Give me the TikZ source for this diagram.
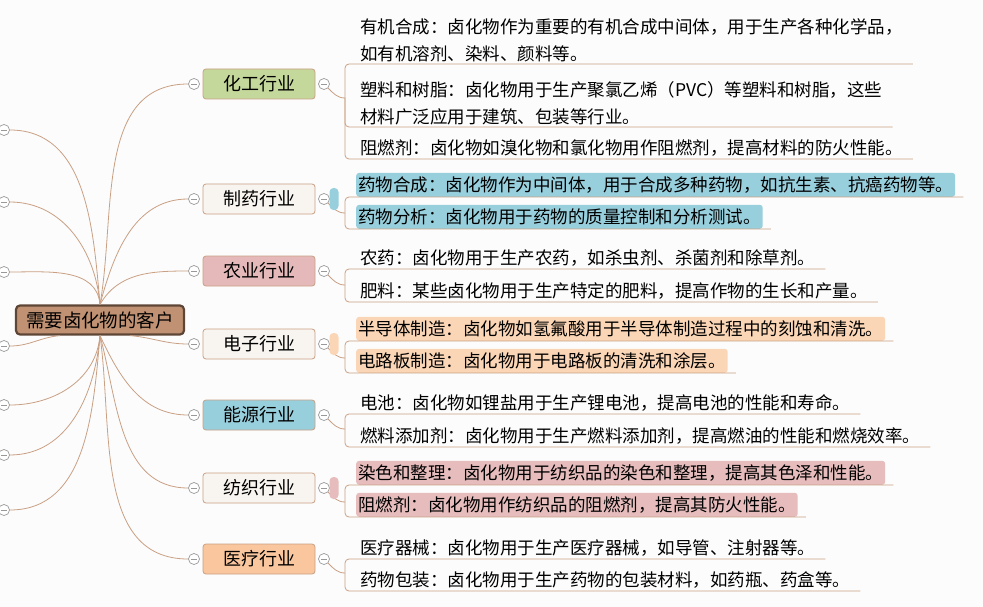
\documentclass[tikz,border=0pt]{standalone}
\usepackage{fontspec}
\setmainfont{Noto Sans CJK SC}
\definecolor{conn}{HTML}{C9A084}
\definecolor{bg}{HTML}{FCFCFC}
\definecolor{rootf}{HTML}{C09273}
\definecolor{rootd}{HTML}{5E4636}
\definecolor{cgreen}{HTML}{C5D89B}
\definecolor{cwhite}{HTML}{F8F4EF}
\definecolor{cpink}{HTML}{E5B9B9}
\definecolor{cblue}{HTML}{98CFDD}
\definecolor{corange}{HTML}{FAC69D}
\definecolor{hblue}{HTML}{98CFDD}
\definecolor{horange}{HTML}{FBD6B6}
\definecolor{hpink}{HTML}{E6BCBC}
\tikzset{
 x=1pt,y=1pt,
 cl/.style={draw=conn,line width=0.8pt},
 br/.style={draw=conn,line width=0.8pt,rounded corners=3pt,minimum width=112,minimum height=30,font=\fontsize{18}{22}\selectfont,inner sep=0pt},
 mc/.style={circle,draw=gray!80,fill=white,line width=0.7pt,minimum size=11,inner sep=0pt,path picture={\draw[gray!80,line width=0.7pt](path picture bounding box.west)++(2.5,0)--++(6,0);}},
 lf/.style={anchor=south west,align=left,inner sep=2pt,font=\fontsize{17.5}{27}\selectfont},
 hl/.style={anchor=south west,inner sep=2pt,rounded corners=3pt,font=\fontsize{17.5}{22}\selectfont,minimum height=24},
 pill/.style={rounded corners=4pt,minimum width=9,minimum height=22,inner sep=0pt},
}
\begin{document}
\begin{tikzpicture}
\fill[bg] (0,0) rectangle (983,-607);
\useasboundingbox (0,0) rectangle (983,-607);
% root
\node[draw=rootd,fill=rootf,line width=2.2pt,rounded corners=4pt,minimum width=168,minimum height=29,inner sep=0pt,font=\fontsize{18.5}{22}\selectfont] (root) at (100,-320) {需要卤化物的客户};
% left stubs
\foreach \n/\y in {L1/130,L2/202,L3/272}{\node[mc] (\n) at (4,-\y) {};
 \draw[cl] (root.north) to[out=95,in=0] (\n.east);}
\node[mc] (L4) at (4,-346) {};
\draw[cl] ([xshift=-40]root.south) to[out=185,in=0] (L4.east);
\foreach \n/\y in {L5/405,L6/455,L7/510}{\node[mc] (\n) at (4,-\y) {};
 \draw[cl] (root.south) to[out=-95,in=0] (\n.east);}
% branches
\foreach \n/\y/\c/\t in {B1/84/cgreen/化工行业,B2/199/cwhite/制药行业,B3/271/cpink/农业行业,B4/344/cwhite/电子行业,B5/415/cblue/能源行业,B6/488/cwhite/纺织行业,B7/559/corange/医疗行业}{
 \node[br,fill=\c] (\n) at (259,-\y) {\t};
 \node[mc] (\n l) at (194,-\y) {};
 \node[mc] (\n r) at (324,-\y) {};
 \coordinate (\n j) at (345,-\y-14);
 \draw[cl] (\n r.south east) to[out=-45,in=180] (\n j);
}
\draw[cl] (root.north) to[out=80,in=180] (B1l.west);
\draw[cl] (root.north) to[out=75,in=180] (B2l.west);
\draw[cl] (root.north) to[out=60,in=180] (B3l.west);
\draw[cl] ([xshift=30]root.south) to[out=-5,in=180] (B4l.west);
\draw[cl] (root.south) to[out=-65,in=180] (B5l.west);
\draw[cl] (root.south) to[out=-75,in=180] (B6l.west);
\draw[cl] (root.south) to[out=-82,in=180] (B7l.west);
% pills
\node[pill,fill=hblue] (P2) at (334,-199) {};
\node[pill,fill=horange] (P4) at (334,-344) {};
\node[pill,fill=hpink] (P6) at (334,-488) {};
% leaves
\node[lf] (a1) at (358,-64) {有机合成：卤化物作为重要的有机合成中间体，用于生产各种化学品，\\如有机溶剂、染料、颜料等。};
\node[lf] (a2) at (358,-127) {塑料和树脂：卤化物用于生产聚氯乙烯（PVC）等塑料和树脂，这些\\材料广泛应用于建筑、包装等行业。};
\node[lf] (a3) at (358,-159) {阻燃剂：卤化物如溴化物和氯化物用作阻燃剂，提高材料的防火性能。};
\node[hl,fill=hblue] (b1) at (356,-197) {药物合成：卤化物作为中间体，用于合成多种药物，如抗生素、抗癌药物等。};
\node[hl,fill=hblue] (b2) at (356,-229) {药物分析：卤化物用于药物的质量控制和分析测试。};
\node[lf] (c1) at (358,-269) {农药：卤化物用于生产农药，如杀虫剂、杀菌剂和除草剂。};
\node[lf] (c2) at (358,-302) {肥料：某些卤化物用于生产特定的肥料，提高作物的生长和产量。};
\node[hl,fill=horange] (d1) at (356,-341) {半导体制造：卤化物如氢氟酸用于半导体制造过程中的刻蚀和清洗。};
\node[hl,fill=horange] (d2) at (356,-373) {电路板制造：卤化物用于电路板的清洗和涂层。};
\node[lf] (e1) at (358,-414) {电池：卤化物如锂盐用于生产锂电池，提高电池的性能和寿命。};
\node[lf] (e2) at (358,-447) {燃料添加剂：卤化物用于生产燃料添加剂，提高燃油的性能和燃烧效率。};
\node[hl,fill=hpink] (f1) at (356,-485) {染色和整理：卤化物用于纺织品的染色和整理，提高其色泽和性能。};
\node[hl,fill=hpink] (f2) at (356,-517) {阻燃剂：卤化物用作纺织品的阻燃剂，提高其防火性能。};
\node[lf] (g1) at (358,-559) {医疗器械：卤化物用于生产医疗器械，如导管、注射器等。};
\node[lf] (g2) at (358,-591) {药物包装：卤化物用于生产药物的包装材料，如药瓶、药盒等。};
% leaf connectors
\foreach \j/\l in {B1j/a1,B1j/a2,B1j/a3,B2j/b1,B2j/b2,B3j/c1,B3j/c2,B4j/d1,B4j/d2,B5j/e1,B5j/e2,B6j/f1,B6j/f2,B7j/g1,B7j/g2}{
 \draw[cl,rounded corners=4pt] (\j) |- ([xshift=8]\l.south east);}
\end{tikzpicture}
\end{document}
